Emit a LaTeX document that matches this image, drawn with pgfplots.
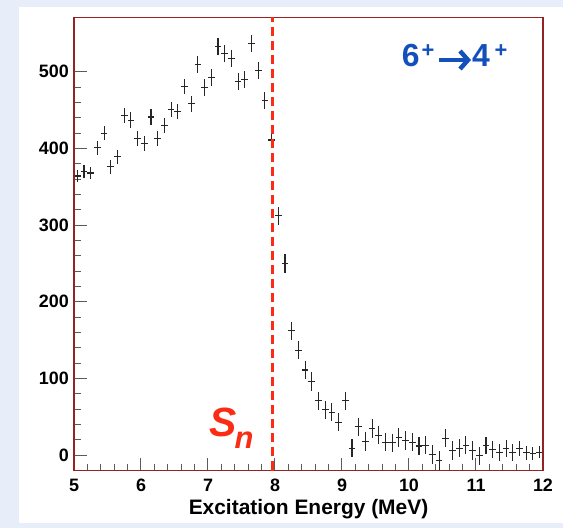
\documentclass[border=0pt]{standalone}
\usepackage{fontspec}
\setmainfont{Liberation Sans}
\usepackage{pgfplots}
\pgfplotsset{compat=1.18}
\usetikzlibrary{arrows.meta}
\usepackage{pgfplotstable}

\definecolor{bgcol}{RGB}{232,237,250}
\definecolor{framecol}{RGB}{150,35,35}
\definecolor{snred}{RGB}{250,45,20}
\definecolor{lblue}{RGB}{20,80,185}
\definecolor{tickcol}{RGB}{90,90,90}

% 0.1 MeV bins, counts and errors
\pgfplotstableread{
x     y    ey
5.05  364  8
5.15  370  8
5.25  368  8
5.35  401  9
5.45  420  9
5.55  376  9
5.65  389  9
5.75  443  10
5.85  437  10
5.95  413  10
6.05  406  10
6.15  441  10
6.25  413  10
6.35  430  10
6.45  451  10
6.55  448  10
6.65  481  10
6.75  458  10
6.85  510  11
6.95  479  11
7.05  492  11
7.15  533  11
7.25  524  11
7.35  517  11
7.45  487  11
7.55  490  11
7.65  537  11
7.75  502  11
7.85  462  11
7.95  411  11
8.05  312  12
8.15  250  12
8.25  162  12
8.35  137  12
8.45  111  12
8.55  96   12
8.65  71   12
8.75  59   12
8.85  56   12
8.95  43   12
9.05  71   12
9.15  9    12
9.25  37   12
9.35  18   12
9.45  35   12
9.55  26   12
9.65  17   12
9.75  16   12
9.85  23   12
9.95  19   12
10.05 17   12
10.15 12   12
10.25 13   12
10.35 1    12
10.45 -7   12
10.55 22   12
10.65 6    12
10.75 9    12
10.85 13   12
10.95 6    12
11.05 -1   12
11.15 13   11
11.25 7    11
11.35 4    11
11.45 9    11
11.55 3    11
11.65 9    10
11.75 3    9
11.85 2    8
11.95 4    8
}\spectrum

\begin{document}
\begin{tikzpicture}
% slide background and white canvas
\fill[bgcol] (-74bp,-57.5bp) rectangle (489bp,470.5bp);
\fill[white] (-55bp,-52.5bp) rectangle (489bp,463.5bp);
\begin{axis}[
    at={(0,0)}, anchor=south west,
    width=469bp, height=453.2bp, scale only axis,
    xmin=5, xmax=12, ymin=-20, ymax=571,
    xtick={5,6,...,12}, ytick={0,100,...,500},
    minor x tick num=4, minor y tick num=4,
    tick pos=left, tick align=inside,
    major tick length=13bp, minor tick length=7bp,
    tick style={draw=tickcol, color=tickcol, line width=1bp},
    major tick style={draw=tickcol},
    minor tick style={draw=tickcol},
    axis line style={draw=none},
    /pgf/number format/assume math mode=true,
    xticklabel style={font=\fontsize{18}{18}\selectfont\bfseries, anchor=base, inner sep=0pt, yshift=-20.5bp},
    yticklabel style={font=\fontsize{18}{18}\selectfont\bfseries, anchor=east, inner sep=0pt, xshift=-5bp},
    clip=false,
]
\addplot[draw=none,
    error bars/.cd,
    x dir=both, x fixed=0.05,
    y dir=both, y explicit,
    error mark=none,
    error bar style={draw=black!85, line width=1.1bp},
] table[x=x, y=y, y error=ey] {\spectrum};
\draw[framecol, line width=1.5bp] (rel axis cs:0,0) rectangle (rel axis cs:1,1);
\draw[snred, line width=3bp, dash pattern=on 9bp off 5bp] (axis cs:7.97,-20) -- (axis cs:7.97,571);
\end{axis}
% axis title
\node[anchor=base, inner sep=0pt, font=\fontsize{21}{21}\selectfont\bfseries] at (234.5bp,-43.5bp) {Excitation Energy (MeV)};
% transition label
\node[anchor=base west, inner sep=0pt, text=lblue, font=\fontsize{32}{32}\selectfont\bfseries] at (327.7bp,403.8bp) {6};
\node[inner sep=0pt, text=lblue, font=\fontsize{22}{22}\selectfont\bfseries] at (354bp,419.5bp) {+};
\draw[lblue, line width=4.5bp, -{Straight Barb[length=8bp, width=18bp]}] (365bp,410.5bp) -- (397bp,410.5bp);
\node[anchor=base west, inner sep=0pt, text=lblue, font=\fontsize{32}{32}\selectfont\bfseries] at (398bp,403.8bp) {4};
\node[inner sep=0pt, text=lblue, font=\fontsize{22}{22}\selectfont\bfseries] at (427bp,419.5bp) {+};
% neutron separation energy
\node[anchor=base west, inner sep=0pt, text=snred, font=\fontsize{41}{41}\selectfont\bfseries\itshape] at (135.7bp,33.8bp) {S};
\node[anchor=base west, inner sep=0pt, text=snred, font=\fontsize{31}{31}\selectfont\bfseries\itshape] at (160.5bp,22.2bp) {n};
\pgfresetboundingbox
\path (-74bp,-57.5bp) rectangle (489bp,470.5bp);
\end{tikzpicture}
\end{document}
